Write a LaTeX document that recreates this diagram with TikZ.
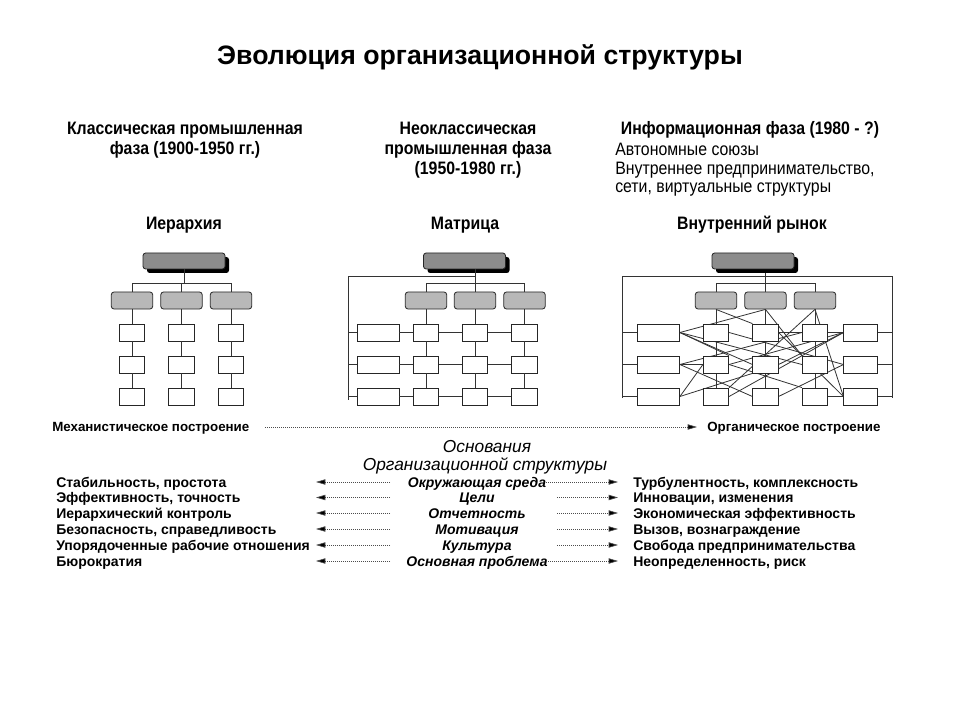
\documentclass[tikz,border=0pt]{standalone}
\usepackage{fontspec}
\setmainfont{Liberation Sans}
\newfontfamily\narrowfont{Liberation Sans}[FakeStretch=0.88]
\usetikzlibrary{arrows.meta,shadows,backgrounds}
\tikzset{
  conn/.style={draw=black!80, line width=0.6pt},
  topbox/.style={draw=black!85, line width=0.6pt, rounded corners=2pt, fill=black!45,
    minimum width=61.5pt, minimum height=12pt, inner sep=0pt,
    drop shadow={shadow xshift=3pt, shadow yshift=-3pt, fill=black, opacity=1}},
  midbox/.style={draw=black!85, line width=0.6pt, rounded corners=2pt, fill=black!28,
    minimum width=31pt, minimum height=12.75pt, inner sep=0pt},
  cell/.style={draw=black!85, fill=white, line width=0.6pt, minimum width=19pt,
    minimum height=12.75pt, inner sep=0pt},
  wide/.style={cell, minimum width=31.5pt},
  rwide/.style={cell, minimum width=25pt},
  headtxt/.style={font=\narrowfont\bfseries\fontsize{13.5}{15}\selectfont, align=center, inner sep=0pt},
  plaintxt/.style={font=\narrowfont\fontsize{13.5}{14}\selectfont, align=left, inner sep=0pt},
  listtxt/.style={font=\bfseries\fontsize{10.5}{12}\selectfont, inner sep=0pt, anchor=base west},
  midtxt/.style={font=\bfseries\itshape\fontsize{10.5}{12}\selectfont, inner sep=0pt, anchor=base},
  dotarr/.style={draw=black!70, densely dotted, line width=0.5pt,
    -{Triangle[length=7pt,width=4pt,fill=black]}},
}
\begin{document}
\begin{tikzpicture}[x=0.75pt,y=-0.75pt]
\useasboundingbox (0,0) rectangle (960,720);
\begin{scope}[on background layer]
\fill[white] (0,0) rectangle (960,720);
\end{scope}

% Title
\node[font=\bfseries\fontsize{20}{24}\selectfont, inner sep=0pt, anchor=base] (title) at (480,65) {Эволюция организационной структуры};

% Phase headings
\node[headtxt] (ph1) at (185,140.5) {Классическая промышленная\\фаза (1900-1950 гг.)};
\node[headtxt] (ph2) at (468,150) {Неоклассическая\\промышленная фаза\\(1950-1980 гг.)};
\node[headtxt] (ph3) at (750,130) {Информационная фаза (1980 - ?)};
\node[plaintxt, anchor=west] (ph3b) at (615,170) {Автономные союзы\\Внутреннее предпринимательство,\\сети, виртуальные структуры};

\node[headtxt] (t1) at (184,225) {Иерархия};
\node[headtxt] (t2) at (465,225) {Матрица};
\node[headtxt] (t3) at (752,225) {Внутренний рынок};

% ---------- Diagram 1: hierarchy ----------
\node[topbox] (h0) at (184,261) {};
\foreach \i/\x in {1/132,2/181.5,3/231} {
  \node[midbox] (h\i) at (\x,300.5) {};
  \foreach \j/\y in {1/332.5,2/364.5,3/396.5}
    \node[cell] (h\i\j) at (\x,\y) {};
  \draw[conn] (h\i.south) -- (h\i1.north) (h\i1.south) -- (h\i2.north) (h\i2.south) -- (h\i3.north);
}
\draw[conn] (h0.south) -- ++(0,15);
\draw[conn] (h1.north) -- ++(0,-8) -| (h3.north);
\draw[conn] (h2.north) -- ++(0,-8);

% ---------- Diagram 2: matrix ----------
\node[topbox] (m0) at (464.5,261) {};
\foreach \i/\x in {1/426,2/475,3/524.5} {
  \node[midbox] (m\i) at (\x,300.5) {};
  \foreach \j/\y in {1/332.5,2/364.5,3/396.5}
    \node[cell] (m\i\j) at (\x,\y) {};
  \draw[conn] (m\i.south) -- (m\i1.north) (m\i1.south) -- (m\i2.north) (m\i2.south) -- (m\i3.north);
}
\foreach \j/\y in {1/332.5,2/364.5,3/396.5} {
  \node[wide] (w\j) at (378,\y) {};
  \draw[conn] (w\j.east) -- (m1\j.west) (m1\j.east) -- (m2\j.west) (m2\j.east) -- (m3\j.west);
}
\coordinate (mT) at (348,276);
\coordinate (mB) at (348,400);
\draw[conn] (m0.south -| m2.north) -- (m2.north);
\draw[conn] (m1.north) -- ++(0,-8) -| (m3.north);
\draw[conn] (mT -| m2.north) -- (mT) -- (mB);
\foreach \j in {1,2,3} \draw[conn] (w\j.west -| mT) -- (w\j.west);

% ---------- Diagram 3: internal market ----------
\node[topbox] (n0) at (753,261) {};
\foreach \i/\x in {1/716,2/765.5,3/815} {
  \node[midbox] (n\i) at (\x,300.5) {};
  \foreach \j/\y in {1/332.5,2/364.5,3/396.5}
    \node[cell] (n\i\j) at (\x,\y) {};
}
\foreach \j/\y in {1/332.5,2/364.5,3/396.5} {
  \node[wide] (nl\j) at (658.5,\y) {};
  \node[rwide] (nr\j) at (860.5,\y) {};
}
\coordinate (nL) at (622,276);
\coordinate (nR) at (892,276);
\coordinate (nLb) at (622,398);
\coordinate (nRb) at (892,398);
\begin{scope}[on background layer]
\draw[conn] (nLb) -- (nL) -- (nR) -- (nRb);
\draw[conn] (n0.south -| n2.north) -- (n2.north);
\draw[conn] (n1.north) -- ++(0,-8) -| (n3.north);
\foreach \i in {1,2,3} \draw[conn] (n\i.north) -- (n\i3.center);
\foreach \j in {1,2,3} {
  \draw[conn] (nl\j.west -| nL) -- (nl\j.west);
  \draw[conn] (nr\j.east) -- (nr\j.east -| nR);
}
% network
\draw[conn] (n1.south) -- (n21.north west);
\draw[conn] (n2.south) -- (nl1.east);
\draw[conn] (n2.south) -- (n32.north west);
\draw[conn] (n3.south) -- (n13.north east);
\draw[conn] (n3.south) -- (nr3.west);
\draw[conn] (nl1.east) -- (n22.west);
\draw[conn] (nl1.east) -- (n32.west);
\draw[conn] (nl1.east) -- (n12.north east);
\draw[conn] (nl2.east) -- (n31.west);
\draw[conn] (nl2.east) -- (n23.west);
\draw[conn] (nl2.east) -- (n12.west);
\draw[conn] (nl3.east) -- (n12.west);
\draw[conn] (nl3.east) -- (n22.south west);
\draw[conn] (n11.east) -- (nr2.west);
\draw[conn] (n12.east) -- (nr1.west);
\draw[conn] (n13.east) -- (nr1.west);
\draw[conn] (n21.east) -- (nr3.west);
\draw[conn] (n21.east) -- (nr1.west);
\draw[conn] (n22.east) -- (nr1.west);
\draw[conn] (n23.east) -- (nr2.west);
\draw[conn] (n33.east) -- (nr3.west);
\draw[conn] (n12.east) -- (n33.north west);
\end{scope}

% ---------- Bottom section ----------
\node[font=\bfseries\fontsize{10}{12}\selectfont, inner sep=0pt, anchor=base west] (mech) at (52,431.5) {Механистическое построение};
\node[font=\bfseries\fontsize{10}{12}\selectfont, inner sep=0pt, anchor=base west] (org) at (707,431.5) {Органическое построение};
\coordinate (mA) at (265,427);
\coordinate (mZ) at (697,427);
\draw[dotarr] (mA) -- (mZ);

\node[font=\itshape\fontsize{13}{15}\selectfont, inner sep=0pt, anchor=base] (osn1) at (487,452) {Основания};
\node[font=\itshape\fontsize{13}{15}\selectfont, inner sep=0pt, anchor=base] (osn2) at (485,470) {Организационной структуры};

\foreach \j/\y/\l/\m/\r/\s in {
  1/482/{Стабильность, простота}/{Окружающая среда}/{Турбулентность, комплексность}/546,
  2/497.5/{Эффективность, точность}/{Цели}/{Инновации, изменения}/557,
  3/513/{Иерархический контроль}/{Отчетность}/{Экономическая эффективность}/557,
  4/529/{Безопасность, справедливость}/{Мотивация}/{Вызов, вознаграждение}/557,
  5/545/{Упорядоченные рабочие отношения}/{Культура}/{Свобода предпринимательства}/557,
  6/561/{Бюрократия}/{Основная проблема}/{Неопределенность, риск}/546} {
  \node[listtxt] (L\j) at (56,\y+5) {\l};
  \node[midtxt] (M\j) at (477,\y+5) {\m};
  \node[listtxt] (R\j) at (633,\y+5) {\r};
  \coordinate (la\j) at (390,\y);
  \coordinate (lt\j) at (316,\y);
  \coordinate (ra\j) at (\s,\y);
  \coordinate (rt\j) at (618,\y);
  \draw[dotarr] (la\j) -- (lt\j);
  \draw[dotarr] (ra\j) -- (rt\j);
}
\end{tikzpicture}
\end{document}
